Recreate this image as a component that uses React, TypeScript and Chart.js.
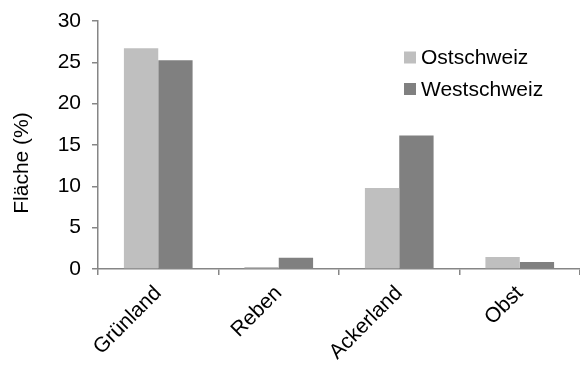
import React, { useEffect, useRef } from "react";
import { Chart, registerables } from "chart.js";

Chart.register(...registerables);

const categories = ["Grünland", "Reben", "Ackerland", "Obst"];
const seriesNames = ["Ostschweiz", "Westschweiz"];
const ostschweiz = [26.7, 0.25, 9.8, 1.45];
const westschweiz = [25.25, 1.35, 16.15, 0.85];
const seriesColors = ["#bfbfbf", "#808080"];
const yTicks = [0, 5, 10, 15, 20, 25, 30];
const yTitle = "Fläche (%)";

const FONT = "'Liberation Sans', Arial, sans-serif";

const legendPlugin = {
  id: "insideLegend",
  afterDraw(chart: any) {
    const ctx = chart.ctx;
    ctx.save();
    ctx.font = `21px ${FONT}`;
    ctx.textBaseline = "middle";
    ctx.textAlign = "left";
    chart.data.datasets.forEach((ds: any, i: number) => {
      const x = 404;
      const y = 57.5 + i * 31.5;
      ctx.fillStyle = ds.backgroundColor;
      ctx.fillRect(x, y - 6, 12, 12);
      ctx.fillStyle = "#000";
      ctx.fillText(ds.label, x + 17, y + 1);
    });
    // y-axis title
    ctx.translate(22, 163);
    ctx.rotate(-Math.PI / 2);
    ctx.textAlign = "center";
    ctx.fillText(yTitle, 0, 0);
    ctx.restore();
  },
};

export default function App() {
  const ref = useRef<HTMLCanvasElement>(null);
  useEffect(() => {
    if (!ref.current) return;
    const chart = new Chart(ref.current, {
      type: "bar",
      data: {
        labels: categories,
        datasets: [
          {
            label: seriesNames[0],
            data: ostschweiz,
            backgroundColor: seriesColors[0],
            categoryPercentage: 0.57,
            barPercentage: 1,
          },
          {
            label: seriesNames[1],
            data: westschweiz,
            backgroundColor: seriesColors[1],
            categoryPercentage: 0.57,
            barPercentage: 1,
          },
        ],
      },
      options: {
        animation: false,
        responsive: false,
        maintainAspectRatio: false,
        layout: { padding: { top: 21, right: 0, left: 0, bottom: 0 } },
        plugins: {
          legend: { display: false },
          tooltip: { enabled: false },
        },
        scales: {
          x: {
            grid: {
              offset: true,
              drawOnChartArea: false,
              drawTicks: true,
              tickLength: 6,
              color: "#868686",
              lineWidth: 1.5,
            },
            border: { color: "#868686", width: 1.5 },
            ticks: {
              maxRotation: 45,
              minRotation: 45,
              color: "#000",
              padding: 6,
              font: { family: FONT, size: 21 },
            },
            afterFit(scale: any) {
              scale.height = 96;
              scale.paddingLeft = 0;
              scale.paddingRight = 0;
            },
          },
          y: {
            min: 0,
            max: 30,
            afterBuildTicks(scale: any) {
              scale.ticks = yTicks.map((v) => ({ value: v }));
            },
            grid: {
              drawOnChartArea: false,
              drawTicks: true,
              tickLength: 6,
              color: "#868686",
              lineWidth: 1.5,
            },
            border: { color: "#868686", width: 1.5 },
            ticks: {
              color: "#000",
              padding: 11,
              font: { family: FONT, size: 21 },
            },
            afterFit(scale: any) {
              scale.width = 98;
              scale.paddingTop = 0;
              scale.paddingBottom = 0;
            },
          },
        },
      },
      plugins: [legendPlugin],
    });
    return () => chart.destroy();
  }, []);
  return (
    <div style={{ position: "absolute", left: 0, top: 0, width: 580, height: 365, background: "#fff" }}>
      <canvas ref={ref} width={580} height={365} />
    </div>
  );
}
